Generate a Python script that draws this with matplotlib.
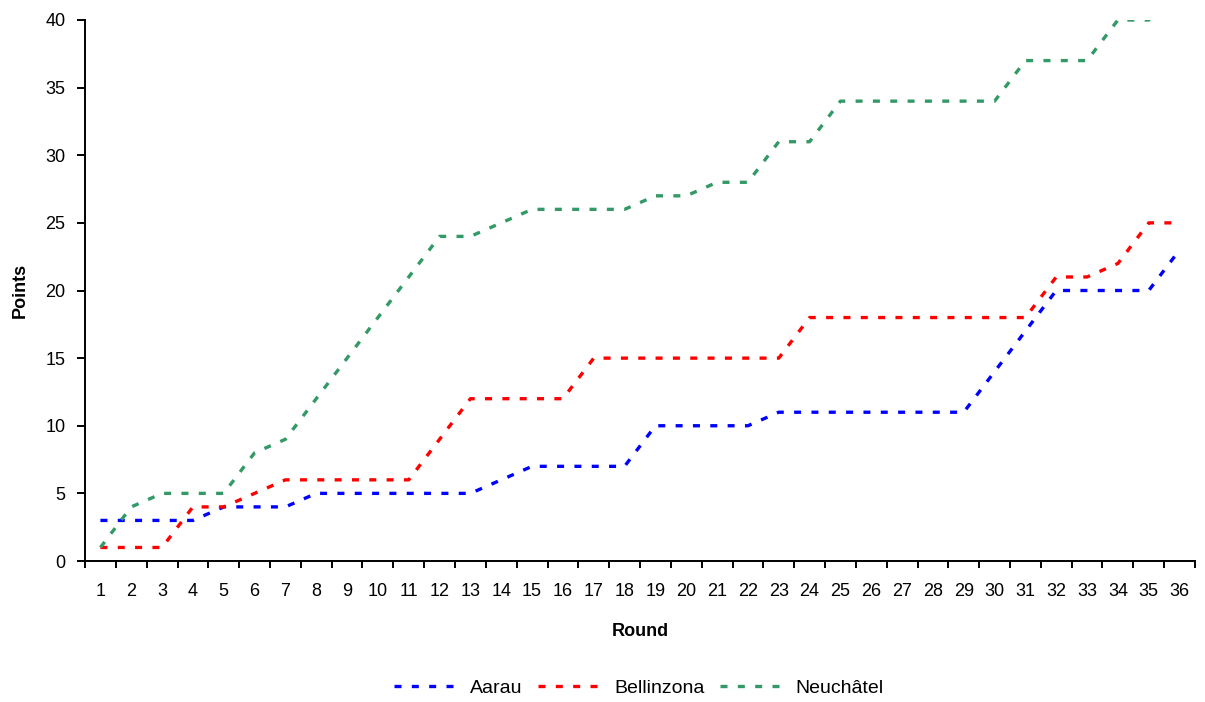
import matplotlib
matplotlib.use('Agg')
import matplotlib.pyplot as plt
import numpy as np

# 数据
rounds = list(range(1, 37))
aarau = [3, 3, 3, 3, 4, 4, 4, 5, 5, 5, 5, 5, 5, 6, 7, 7, 7, 7, 10, 10, 10, 10, 11, 11,
         11, 11, 11, 11, 11, 14, 17, 20, 20, 20, 20, 23]
bellinzona = [1, 1, 1, 4, 4, 5, 6, 6, 6, 6, 6, 9, 12, 12, 12, 12, 15, 15, 15, 15, 15, 15, 15, 18,
              18, 18, 18, 18, 18, 18, 18, 21, 21, 22, 25, 25]
neuchatel = [1, 4, 5, 5, 5, 8, 9, 12, 15, 18, 21, 24, 24, 25, 26, 26, 26, 26, 27, 27, 28, 28, 31, 31,
             34, 34, 34, 34, 34, 34, 37, 37, 37, 40, 40, 43]

series_names = ['Aarau', 'Bellinzona', 'Neuchâtel']
series_colors = ['#0000FF', '#FF0000', '#339966']

plt.rcParams['font.family'] = ['Liberation Sans', 'DejaVu Sans']

fig = plt.figure(figsize=(12.05, 7.02), dpi=100)
ax = fig.add_axes([85 / 1205, 141 / 702, 1110 / 1205, 541 / 702])

for values, name, color in zip([aarau, bellinzona, neuchatel], series_names, series_colors):
    ax.plot(rounds, values, color=color, linewidth=2.4, linestyle=(0, (2.1, 3.1)),
            dash_capstyle='butt', label=name)

ax.set_xlim(0.5, 36.5)
ax.set_ylim(0, 40)

# x轴: 刻度线在类别之间, 标签在类别中心
ax.set_xticks(np.arange(0.5, 37, 1))
ax.set_xticklabels([])
ax.set_xticks(rounds, minor=True)
ax.set_xticklabels([str(r) for r in rounds], minor=True, fontsize=13)
ax.tick_params(axis='x', which='major', direction='out', length=5, width=1.4)
ax.tick_params(axis='x', which='minor', length=0, pad=16)

ax.set_yticks(np.arange(0, 41, 5))
ax.tick_params(axis='y', direction='out', length=6, width=1.4, labelsize=13, pad=8)

for side in ['top', 'right']:
    ax.spines[side].set_visible(False)
for side in ['left', 'bottom']:
    ax.spines[side].set_linewidth(1.4)

ax.set_xlabel('Round', fontsize=13, fontweight='bold', va='center')
ax.xaxis.set_label_coords(0.5, (561 - 631) / 541)
ax.set_ylabel('Points', fontsize=13, fontweight='bold', va='center', ha='center')
ax.yaxis.set_label_coords((20 - 85) / 1110, 0.5)

handles, labels = ax.get_legend_handles_labels()
fig.legend(handles, labels, loc='center', bbox_to_anchor=(639 / 1205, 14 / 702), ncol=3,
           frameon=False, fontsize=14, handlelength=3.2, handletextpad=0.7, columnspacing=0.8)

fig.savefig('out.png', dpi=100)
